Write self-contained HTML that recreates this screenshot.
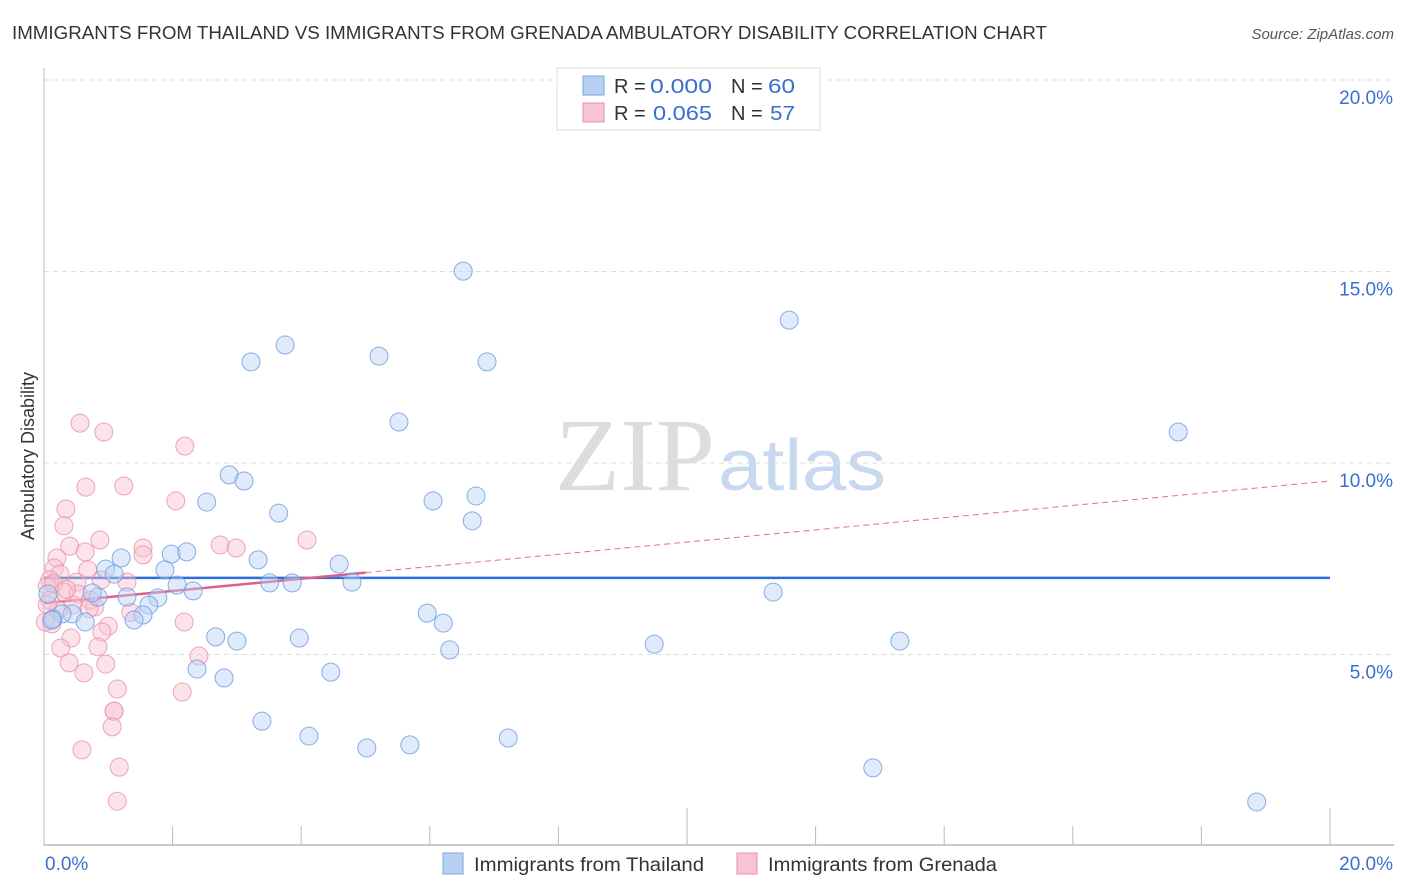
<!DOCTYPE html>
<html><head><meta charset="utf-8"><style>
body{margin:0;background:#fff;font-family:"Liberation Sans",sans-serif;}
svg{display:block}
</style></head><body>
<svg id="chart" width="1406" height="892" xmlns="http://www.w3.org/2000/svg">
<text x="12" y="39" font-size="18" fill="#333" textLength="1035" lengthAdjust="spacingAndGlyphs">IMMIGRANTS FROM THAILAND VS IMMIGRANTS FROM GRENADA AMBULATORY DISABILITY CORRELATION CHART</text>
<text x="1394" y="39" font-size="15" fill="#555" font-style="italic" text-anchor="end">Source: ZipAtlas.com</text>
<text x="555" y="490" font-size="104" fill="#ddd" textLength="160" lengthAdjust="spacingAndGlyphs" font-family="Liberation Serif,serif">ZIP</text>
<text x="718" y="490" font-size="72" fill="#c8d8ee" textLength="168" lengthAdjust="spacingAndGlyphs">atlas</text>
<text transform="translate(34,456) rotate(-90)" font-size="18" fill="#333" text-anchor="middle">Ambulatory Disability</text>
<g id="grid"></g><g id="axes"></g><g id="trend"></g><g id="pts"></g>
<g>
<rect x="557" y="68" width="263" height="62" fill="#fff" stroke="#ddd"/>
<rect x="583" y="76" width="21" height="19" fill="#b8d1f3" stroke="#7aa6e0"/>
<rect x="583" y="103" width="21" height="19" fill="#f8c4d3" stroke="#e890aa"/>
<text x="614" y="93" font-size="20" fill="#333">R =</text>
<text x="650" y="93" font-size="20" fill="#3a6fd0" textLength="62" lengthAdjust="spacingAndGlyphs">0.000</text>
<text x="731" y="93" font-size="20" fill="#333">N =</text>
<text x="768" y="93" font-size="20" fill="#3a6fd0" textLength="27" lengthAdjust="spacingAndGlyphs">60</text>
<text x="614" y="120" font-size="20" fill="#333">R =</text>
<text x="653" y="120" font-size="20" fill="#3a6fd0" textLength="59" lengthAdjust="spacingAndGlyphs">0.065</text>
<text x="731" y="120" font-size="20" fill="#333">N =</text>
<text x="770" y="120" font-size="20" fill="#3a6fd0" textLength="25" lengthAdjust="spacingAndGlyphs">57</text>
</g>
<g>
<rect x="443" y="853" width="20" height="21" fill="#b8d1f3" stroke="#7aa6e0"/>
<text x="474" y="871" font-size="19" fill="#333" textLength="230" lengthAdjust="spacingAndGlyphs">Immigrants from Thailand</text>
<rect x="737" y="853" width="20" height="21" fill="#f8c4d3" stroke="#e890aa"/>
<text x="768" y="871" font-size="19" fill="#333" textLength="229" lengthAdjust="spacingAndGlyphs">Immigrants from Grenada</text>
</g>
</svg>
<script>
const yTicks=[5,10,15,20];
const blueX=[6.52,11.59,3.75,5.21,3.22,6.89,5.52,17.64,2.88,3.11,2.53,6.05,6.72,3.65,6.66,1.20,1.98,2.22,3.33,4.59,1.88,0.96,1.09,2.07,3.51,3.86,4.79,2.32,1.29,1.77,1.63,1.54,1.40,0.84,0.75,0.44,0.28,0.14,0.64,11.34,5.96,6.21,2.67,3.00,3.97,9.49,13.31,6.31,2.38,2.80,4.46,3.39,4.12,5.02,5.69,7.22,12.89,18.86,0.06,0.12];
const blueY=[15.01,13.73,13.08,12.79,12.64,12.64,11.07,10.81,9.69,9.53,8.98,9.01,9.14,8.69,8.49,7.52,7.62,7.68,7.47,7.36,7.21,7.23,7.10,6.81,6.87,6.87,6.89,6.66,6.50,6.48,6.29,6.03,5.90,6.50,6.61,6.06,6.06,5.93,5.85,6.63,6.08,5.82,5.46,5.35,5.43,5.27,5.35,5.12,4.62,4.39,4.54,3.26,2.87,2.56,2.64,2.82,2.04,1.15,6.58,5.90];
const pinkX=[0.56,0.93,2.19,0.65,1.24,0.34,2.05,0.31,0.87,0.40,2.74,2.99,4.09,1.54,1.54,0.64,0.20,0.16,0.25,0.68,0.09,0.05,0.51,0.89,1.29,0.31,0.53,0.09,0.72,0.45,0.79,0.22,0.12,1.00,0.90,2.18,0.42,0.84,0.26,2.41,0.39,0.96,0.62,1.14,2.15,1.09,1.09,1.06,0.59,1.17,1.14,0.05,0.15,0.70,0.35,1.35,0.02];
const pinkY=[11.04,10.81,10.44,9.37,9.40,8.80,9.01,8.36,7.99,7.83,7.86,7.78,7.99,7.78,7.60,7.68,7.52,7.26,7.10,7.21,6.95,6.79,6.89,6.95,6.89,6.63,6.58,6.42,6.42,6.29,6.24,6.16,5.80,5.74,5.59,5.85,5.43,5.20,5.17,4.96,4.78,4.75,4.52,4.10,4.02,3.52,3.52,3.11,2.51,2.06,1.17,6.30,6.85,6.20,6.70,6.10,5.85];
const blueTrend=[7.0,7.0];
const pinkTrend=[6.34,9.53];
const X0=44,X1=1330,Y0=846;
const sx=v=>X0+(v/20)*(X1-X0);
const sy=v=>Y0-v*38.3;
const NS="http://www.w3.org/2000/svg";
function mk(t,a,p){const e=document.createElementNS(NS,t);for(const k in a)e.setAttribute(k,a[k]);p.appendChild(e);return e;}
const grid=document.getElementById('grid'),axes=document.getElementById('axes'),trend=document.getElementById('trend'),pts=document.getElementById('pts');
yTicks.forEach(v=>{
 const l=mk('line',{x1:X0,x2:1394,y1:sy(v),y2:sy(v),stroke:'#ddd','stroke-dasharray':'5,4'},grid);
 
 
 const t=mk('text',{x:1393,y:sy(v)+24,'font-size':19,fill:'#3a6fd0','text-anchor':'end'},grid);
 t.textContent=v.toFixed(1)+'%';
 
 
});
let a=mk('line',{x1:X0,x2:X0,y1:68,y2:846,stroke:'#bbb'},axes);


a=mk('line',{x1:X0,x2:1394,y1:845,y2:845,stroke:'#bbb','stroke-width':1.5},axes);


for(let i=1;i<=10;i++){
 const x=sx(i*2);
 const tk=mk('line',{x1:x,x2:x,y1:(i==5||i==10)?808:826,y2:845,stroke:'#bbb'},axes);
 
 
}
[['0.0%',X0+1,'start'],['20.0%',1393,'end']].forEach(d=>{
 const t=mk('text',{x:d[1],y:870,'font-size':19,fill:'#3a6fd0','text-anchor':d[2]},axes);
 t.textContent=d[0];
 
 
});
function drawPts(xs,ys,fill,stroke,name){
 xs.forEach((x,i)=>{
  const c=mk('circle',{cx:sx(x),cy:sy(ys[i]),r:9,fill:fill,'fill-opacity':0.45,stroke:stroke,'stroke-opacity':0.8,'stroke-width':1},pts);
  
  
 });
}
drawPts(pinkX,pinkY,'#f8c0d0','#e890aa','grenada-point');
drawPts(blueX,blueY,'#b8d1f3','#6b9be0','thailand-point');
let tl=mk('line',{x1:sx(0),x2:sx(20),y1:sy(blueTrend[0]),y2:sy(blueTrend[1]),stroke:'#2c6fd6','stroke-width':2.5},trend);


const pm=x=>pinkTrend[0]+(pinkTrend[1]-pinkTrend[0])*x/20;
tl=mk('line',{x1:sx(5),x2:sx(20),y1:sy(pm(5)),y2:sy(pm(20)),stroke:'#e0708f','stroke-width':1,'stroke-dasharray':'6,4'},trend);


tl=mk('line',{x1:sx(0),x2:sx(5),y1:sy(pm(0)),y2:sy(pm(5)),stroke:'#e0608a','stroke-width':2.5},trend);


</script>
</body></html>
